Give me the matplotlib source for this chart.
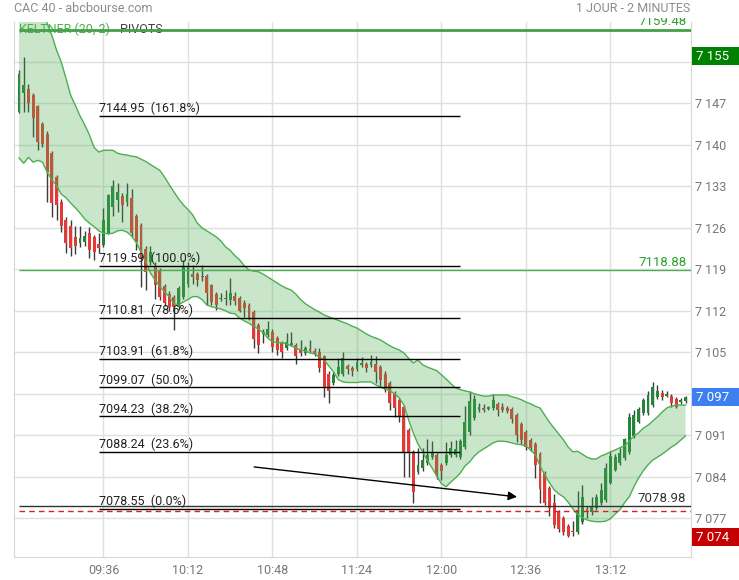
import numpy as np
import matplotlib.pyplot as plt
from matplotlib.patches import Rectangle
from matplotlib.transforms import blended_transform_factory, Bbox, TransformedBbox

plt.rcParams['font.family'] = ['Roboto', 'DejaVu Sans']

#%% data : CAC 40, 2 minute candles from 09:00 to 13:44
opens = [
    7145.6, 7148.8, 7149.5, 7148.4, 7146.5, 7143.5, 7141.9, 7138.7, 7134.6, 7130.4,
    7127.4, 7126.3, 7124.4, 7123.4, 7123.7, 7125.1, 7124.5, 7123.2, 7123.1, 7125.2,
    7129.5, 7130.7, 7131.4, 7130.4, 7131.1, 7128.0, 7126.5, 7122.5, 7120.3, 7119.5,
    7118.8, 7116.2, 7114.9, 7114.3, 7112.7, 7114.4, 7116.6, 7118.3, 7118.2, 7117.7,
    7117.9, 7116.3, 7114.9, 7114.0, 7114.0, 7113.8, 7114.5, 7114.1, 7113.4, 7113.0,
    7111.8, 7109.6, 7108.1, 7107.9, 7108.5, 7107.4, 7106.5, 7105.8, 7106.3, 7106.3,
    7105.5, 7104.9, 7105.5, 7105.3, 7105.0, 7104.3, 7101.4, 7099.8, 7101.4, 7101.4,
    7102.7, 7102.3, 7102.1, 7102.9, 7103.1, 7102.9, 7103.0, 7102.5, 7101.4, 7099.9,
    7098.2, 7097.0, 7095.8, 7091.9, 7088.2, 7084.8, 7085.4, 7086.4, 7087.4, 7087.7,
    7086.0, 7086.4, 7087.7, 7087.6, 7087.4, 7089.0, 7091.5, 7093.9, 7095.3, 7095.6,
    7095.5, 7095.6, 7096.3, 7095.7, 7095.6, 7095.4, 7094.4, 7092.9, 7091.6, 7090.2,
    7089.5, 7087.8, 7084.6, 7082.1, 7079.6, 7078.1, 7077.0, 7075.7, 7074.9, 7074.7,
    7076.4, 7078.6, 7078.1, 7078.7, 7079.5, 7080.0, 7083.0, 7085.2, 7086.3, 7087.1,
    7088.2, 7090.8, 7093.3, 7094.7, 7094.8, 7096.1, 7097.5, 7098.1, 7097.7, 7097.6,
    7097.1, 7096.6, 7096.7]
highs = [
    7152.6, 7154.9, 7150.3, 7148.8, 7146.8, 7143.8, 7142.3, 7139.0, 7135.0, 7130.8,
    7127.8, 7127.3, 7126.4, 7126.4, 7125.4, 7126.2, 7124.8, 7125.1, 7129.3, 7131.8,
    7134.0, 7133.5, 7131.9, 7133.6, 7132.5, 7128.4, 7126.9, 7123.0, 7123.0, 7120.3,
    7119.2, 7116.6, 7115.3, 7114.6, 7116.2, 7120.6, 7120.3, 7119.8, 7118.6, 7119.8,
    7118.2, 7116.6, 7115.2, 7115.0, 7115.5, 7117.5, 7115.2, 7114.5, 7113.8, 7113.3,
    7112.1, 7110.0, 7109.0, 7110.2, 7108.9, 7107.8, 7106.9, 7108.3, 7108.5, 7106.6,
    7107.0, 7106.1, 7107.0, 7105.7, 7105.8, 7104.6, 7101.8, 7101.6, 7104.0, 7105.1,
    7103.1, 7102.7, 7104.0, 7104.2, 7103.4, 7104.5, 7104.4, 7102.8, 7101.8, 7100.2,
    7098.5, 7097.3, 7096.1, 7092.2, 7088.5, 7088.8, 7088.9, 7090.3, 7090.0, 7088.0,
    7086.3, 7089.9, 7090.0, 7090.2, 7090.4, 7096.0, 7098.4, 7097.8, 7096.5, 7096.2,
    7096.0, 7098.0, 7096.6, 7096.5, 7095.9, 7095.7, 7094.7, 7093.2, 7091.9, 7090.5,
    7089.8, 7088.1, 7084.9, 7082.4, 7081.0, 7078.4, 7077.3, 7076.0, 7076.5, 7081.6,
    7082.6, 7079.1, 7080.5, 7081.0, 7083.0, 7086.3, 7088.3, 7087.8, 7088.9, 7090.5,
    7094.7, 7095.3, 7095.7, 7097.3, 7098.4, 7100.0, 7099.5, 7098.6, 7098.4, 7097.9,
    7097.4, 7097.3, 7097.7]
lows = [
    7145.4, 7145.6, 7145.6, 7141.3, 7139.1, 7139.6, 7130.4, 7127.9, 7127.3, 7125.3,
    7121.8, 7121.2, 7121.6, 7122.8, 7123.0, 7121.0, 7120.5, 7121.8, 7122.8, 7125.0,
    7128.0, 7128.7, 7127.0, 7129.7, 7124.5, 7122.3, 7116.0, 7115.5, 7119.8, 7114.0,
    7113.9, 7112.8, 7112.0, 7108.8, 7112.1, 7114.0, 7116.0, 7116.6, 7116.2, 7117.0,
    7113.0, 7113.0, 7112.1, 7113.6, 7113.0, 7113.0, 7113.0, 7111.8, 7111.0, 7110.4,
    7105.7, 7104.8, 7106.6, 7107.5, 7105.0, 7104.6, 7104.0, 7105.4, 7106.0, 7103.1,
    7104.4, 7104.5, 7105.0, 7104.4, 7101.6, 7097.5, 7096.4, 7099.4, 7101.0, 7101.0,
    7101.3, 7101.0, 7101.8, 7102.6, 7101.6, 7102.6, 7099.8, 7099.2, 7098.3, 7095.3,
    7094.1, 7093.3, 7084.0, 7084.0, 7079.5, 7084.4, 7085.0, 7086.0, 7087.0, 7083.6,
    7083.5, 7086.0, 7087.3, 7087.3, 7087.0, 7088.7, 7091.0, 7093.5, 7095.0, 7095.0,
    7095.2, 7095.3, 7094.3, 7095.0, 7094.8, 7093.0, 7089.9, 7089.5, 7088.5, 7088.3,
    7083.7, 7079.5, 7079.3, 7077.3, 7075.3, 7074.6, 7074.2, 7073.8, 7074.0, 7074.4,
    7076.0, 7077.0, 7077.5, 7078.3, 7079.2, 7079.7, 7082.7, 7084.9, 7086.0, 7086.8,
    7087.9, 7090.5, 7093.0, 7094.4, 7094.5, 7095.8, 7097.2, 7097.0, 7097.4, 7095.8,
    7095.6, 7096.3, 7096.5]
closes = [
    7152.0, 7150.1, 7147.1, 7144.6, 7140.5, 7140.2, 7135.5, 7130.2, 7129.8, 7126.3,
    7123.4, 7122.6, 7122.9, 7124.3, 7124.6, 7122.3, 7122.0, 7122.6, 7127.4, 7131.5,
    7133.1, 7132.1, 7129.8, 7131.8, 7125.1, 7123.6, 7120.8, 7118.5, 7122.0, 7116.3,
    7114.4, 7113.3, 7112.7, 7112.7, 7115.8, 7119.4, 7119.4, 7117.7, 7117.2, 7117.9,
    7115.0, 7113.5, 7113.0, 7114.1, 7114.2, 7115.0, 7113.6, 7112.0, 7112.4, 7110.7,
    7107.3, 7106.2, 7108.5, 7109.0, 7105.9, 7105.4, 7105.1, 7106.8, 7106.6, 7104.3,
    7104.8, 7105.7, 7105.3, 7104.8, 7102.3, 7099.2, 7098.4, 7101.2, 7102.6, 7104.0,
    7102.1, 7101.9, 7103.4, 7103.2, 7102.3, 7103.3, 7101.7, 7100.3, 7098.6, 7096.5,
    7095.6, 7094.1, 7088.0, 7088.0, 7081.5, 7086.0, 7086.8, 7087.7, 7088.0, 7084.3,
    7084.9, 7087.7, 7088.8, 7088.6, 7090.0, 7093.3, 7096.8, 7097.1, 7095.8, 7095.3,
    7095.7, 7096.9, 7095.3, 7095.3, 7095.1, 7093.7, 7091.0, 7090.2, 7089.0, 7088.8,
    7086.0, 7082.0, 7079.6, 7078.7, 7075.8, 7075.2, 7074.7, 7074.0, 7074.6, 7078.4,
    7080.6, 7078.2, 7079.1, 7080.6, 7081.8, 7085.4, 7087.5, 7087.4, 7088.0, 7090.3,
    7094.1, 7094.4, 7095.4, 7097.0, 7097.8, 7099.2, 7098.4, 7097.4, 7098.0, 7096.4,
    7095.8, 7097.0, 7097.4]

# Keltner (20, 2) channel
kelt_upper = [
    7175.0, 7172.5, 7170.0, 7167.5, 7165.0, 7162.8, 7160.5, 7158.5, 7156.0, 7154.0,
    7151.3, 7148.4, 7146.7, 7144.9, 7143.4, 7141.7, 7139.6, 7138.8, 7139.1, 7139.1,
    7139.1, 7138.6, 7138.4, 7138.3, 7138.1, 7138.0, 7137.6, 7137.2, 7136.7, 7136.2,
    7135.7, 7134.6, 7133.3, 7132.1, 7130.9, 7129.9, 7129.1, 7128.2, 7126.8, 7126.0,
    7125.5, 7125.0, 7124.5, 7123.8, 7122.8, 7122.2, 7121.3, 7120.6, 7119.6, 7118.9,
    7118.7, 7118.6, 7118.2, 7117.7, 7117.2, 7116.7, 7116.2, 7115.8, 7115.5, 7114.8,
    7113.9, 7113.2, 7112.7, 7112.2, 7111.8, 7111.3, 7111.0, 7110.7, 7110.4, 7110.1,
    7109.8, 7109.4, 7109.1, 7108.6, 7108.1, 7107.7, 7107.4, 7107.1, 7106.6, 7106.1,
    7105.7, 7105.4, 7104.9, 7104.0, 7103.2, 7103.7, 7102.9, 7102.5, 7102.2, 7101.9,
    7101.2, 7100.5, 7099.7, 7099.0, 7098.7, 7098.5, 7098.3, 7098.0, 7097.8, 7097.6,
    7097.6, 7097.8, 7097.8, 7097.8, 7097.8, 7097.5, 7097.3, 7097.0, 7096.6, 7096.3,
    7095.9, 7095.6, 7094.4, 7093.2, 7092.2, 7091.2, 7090.2, 7089.0, 7088.2, 7088.3,
    7087.8, 7087.3, 7087.0, 7087.0, 7087.5, 7087.8, 7088.2, 7088.5, 7088.9, 7089.2,
    7090.0, 7090.9, 7091.4, 7092.2, 7092.7, 7093.4, 7094.1, 7094.9, 7095.6, 7095.9,
    7096.1, 7096.1, 7096.1]
kelt_lower = [
    7137.8, 7136.9, 7137.9, 7137.1, 7137.4, 7137.1, 7135.4, 7134.1, 7133.1, 7131.7,
    7131.1, 7130.2, 7129.4, 7128.5, 7127.5, 7126.8, 7126.2, 7125.5, 7125.1, 7125.0,
    7125.1, 7125.5, 7125.6, 7125.3, 7124.6, 7123.5, 7121.9, 7120.3, 7118.4, 7117.2,
    7116.1, 7115.2, 7114.4, 7113.2, 7113.0, 7113.5, 7113.9, 7114.4, 7114.4, 7113.9,
    7113.0, 7112.7, 7112.5, 7112.3, 7112.0, 7111.6, 7111.5, 7110.8, 7110.3, 7109.9,
    7109.4, 7108.9, 7108.3, 7107.4, 7106.8, 7106.6, 7106.6, 7106.4, 7106.1, 7105.7,
    7105.4, 7105.2, 7104.9, 7104.7, 7104.2, 7103.7, 7102.7, 7101.7, 7100.4, 7100.0,
    7099.9, 7099.9, 7099.9, 7100.0, 7100.0, 7100.0, 7099.5, 7099.1, 7098.8, 7098.5,
    7098.0, 7097.3, 7096.1, 7093.6, 7091.4, 7089.5, 7088.2, 7086.7, 7085.5, 7084.1,
    7082.8, 7082.3, 7083.1, 7083.8, 7084.6, 7085.8, 7086.5, 7087.5, 7088.2, 7088.7,
    7089.2, 7089.7, 7090.0, 7090.0, 7089.9, 7089.7, 7089.5, 7089.4, 7089.2, 7088.5,
    7087.7, 7085.8, 7084.3, 7083.0, 7081.8, 7081.1, 7080.6, 7079.7, 7078.6, 7077.6,
    7077.1, 7076.7, 7076.5, 7076.4, 7076.4, 7076.5, 7076.9, 7077.7, 7078.4, 7079.6,
    7080.6, 7082.3, 7083.8, 7085.0, 7086.0, 7086.8, 7087.3, 7087.8, 7088.4, 7089.0,
    7089.5, 7090.2, 7090.9]

# fibonacci retracement
fib_levels = [7144.95, 7119.59, 7110.81, 7103.91, 7099.07, 7094.23, 7088.24, 7078.55]
fib_pcts = ['161.8%', '100.0%', '78.6%', '61.8%', '50.0%', '38.2%', '23.6%', '0.0%']
fib_from, fib_to = 17, 94          # candle index (09:34 -> 12:08)

# pivots
pivot_levels = [7159.48, 7118.88, 7078.98]
prev_close = 7078.2

# trend arrow (candle index, price)
arrow_start = (50.1, 7085.65)
arrow_end = (106.1, 7080.6)

# right side boxes: high, last, low
box_texts = ['7 155', '7 097', '7 074']
box_values = [7155.0, 7097.4, 7073.8]

tick_times = ['09:36', '10:12', '10:48', '11:24', '12:00', '12:36', '13:12']
y_ticks = list(range(7077, 7155, 7))
hidden_ticks = [7098, 7154]   # covered by the last / high boxes

#%% figure
o = np.array(opens)
c = np.array(closes)
x = np.arange(len(o))
up = c >= o
body_lo = np.minimum(o, c)
body_h = np.maximum(np.abs(c - o), 0.18)

GREEN_LINE = '#4caf50'
GRAY = '#777777'

fig = plt.figure(figsize=(7.39, 5.80), dpi=100)
ax = fig.add_axes([0.01935, 0.04017, 0.9153, 0.9224])
ax.set_xlim(-1.0, 143.1)
ax.set_ylim(7070.5, 7160.8)

# grid / axes
tick_pos = [(int(t[:2]) * 60 + int(t[3:]) - 540) / 2 for t in tick_times]
ax.set_xticks(tick_pos)
ax.set_xticklabels(tick_times)
ax.set_yticks(y_ticks)
ax.set_yticklabels(['' if v in hidden_ticks else f'{v // 1000} {v % 1000:03d}' for v in y_ticks])
ax.yaxis.tick_right()
ax.tick_params(axis='both', length=0, colors=GRAY, labelsize=9)
ax.tick_params(axis='y', pad=3)
ax.tick_params(axis='x', pad=5)
ax.grid(True, color='#e0e0e0', lw=1, zorder=0)
ax.set_axisbelow(True)
for side in ['left', 'bottom', 'right']:
    ax.spines[side].set_color('#d6d6d6')
ax.spines['top'].set_visible(False)

# candles
ax.vlines(x, lows, highs, color='#3a3a3a', lw=1, zorder=2)
ax.bar(x[up], body_h[up], bottom=body_lo[up], width=0.62, color='#23853a', lw=0, zorder=3)
ax.bar(x[~up], body_h[~up], bottom=body_lo[~up], width=0.62, color='#e53935', lw=0, zorder=3)

# keltner band drawn over the candles
ax.fill_between(x, kelt_lower, kelt_upper, color=GREEN_LINE, alpha=0.3, lw=0, zorder=4)
ax.plot(x, kelt_upper, color=GREEN_LINE, lw=1, zorder=5)
ax.plot(x, kelt_lower, color=GREEN_LINE, lw=1, zorder=5)

# pivots
ax.hlines(pivot_levels[0], 0, 143.1, color='#43a047', lw=2, zorder=6)
ax.hlines(pivot_levels[1], 0, 143.1, color=GREEN_LINE, lw=1, zorder=6)
ax.hlines(pivot_levels[2], 0, 143.1, color='#333333', lw=1, zorder=6)
ax.hlines(prev_close, 0, 143.1, color='#e02020', lw=1, linestyles=(0, (4, 3)), zorder=6)
clip = TransformedBbox(Bbox([[0, 0], [1, 1.006]]), ax.transAxes)
for lvl, col in zip(pivot_levels, ['#2e9e2e', '#2e9e2e', '#333333']):
    t = ax.text(142.2, lvl + 0.25, f'{lvl:.2f}', ha='right', va='bottom', fontsize=9.5,
                color=col, zorder=7, clip_on=True)
    t.set_clip_box(clip)

# fibonacci
for lvl, pct in zip(fib_levels, fib_pcts):
    ax.hlines(lvl, fib_from, fib_to, color='black', lw=1, zorder=6)
    ax.text(fib_from, lvl + 0.1, f'{lvl:.2f}  ({pct})', ha='left', va='bottom',
            fontsize=9, color='#222222', zorder=7)

# arrow
ax.annotate('', xy=arrow_end, xytext=arrow_start, zorder=7,
            arrowprops=dict(arrowstyle='-|>', color='black', lw=1,
                            mutation_scale=13, shrinkA=0, shrinkB=0))

# legend
ax.text(0.007, 0.985, 'KELTNER (20, 2)', transform=ax.transAxes, ha='left', va='center',
        fontsize=9, color=GREEN_LINE, zorder=5)
ax.text(0.156, 0.985, 'PIVOTS', transform=ax.transAxes, ha='left', va='center',
        fontsize=9, color='#444444', zorder=5)

# value boxes on the right
trans = blended_transform_factory(fig.transFigure, ax.transData)
for txt, val, col in zip(box_texts, box_values, ['#008000', '#3d7ff0', '#c40000']):
    fig.add_artist(Rectangle((692 / 739, val - 1.52), 47 / 739, 3.04, transform=trans,
                             color=col, lw=0, zorder=10))
    fig.text(696 / 739, val, txt, transform=trans, ha='left', va='center',
             fontsize=9.5, color='white', zorder=11)

# header
fig.text(14 / 739, 1 - 9 / 580, 'CAC 40 - abcbourse.com', ha='left', va='center',
         fontsize=9, color='#8c8c8c')
fig.text(690 / 739, 1 - 9 / 580, '1 JOUR - 2 MINUTES', ha='right', va='center',
         fontsize=9, color='#8c8c8c')

fig.savefig('out.png', dpi=100)
